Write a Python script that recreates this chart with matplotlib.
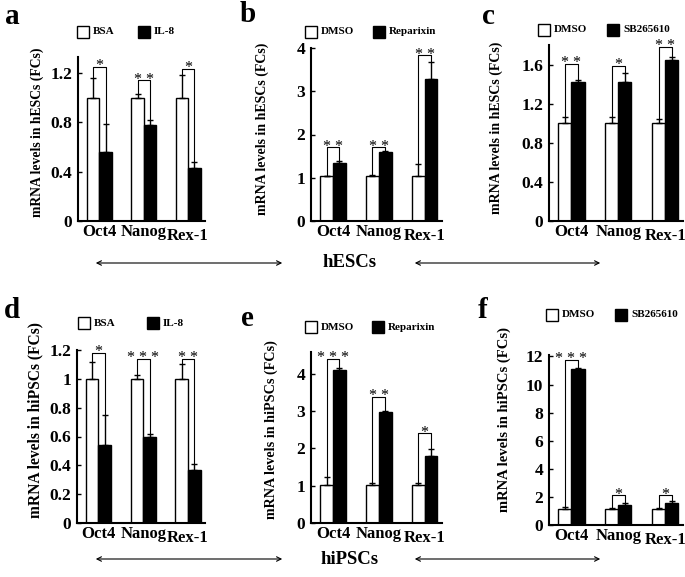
import matplotlib
matplotlib.use('Agg')
import matplotlib.pyplot as plt
import numpy as np
from matplotlib.patches import Rectangle, FancyArrowPatch
from matplotlib.transforms import ScaledTranslation

plt.rcParams['font.family'] = 'Liberation Serif'
plt.rcParams['font.weight'] = 'bold'

genes = ['Oct4', 'Nanog', 'Rex-1']

# panel a: hESCs, BSA vs IL-8
a_ctrl = [1.0, 1.0, 1.0]
a_ctrl_err = [0.16, 0.03, 0.18]
a_trt = [0.56, 0.78, 0.43]
a_trt_err = [0.23, 0.04, 0.05]
a_sig = ['*', '**', '*']
a_brk = [1.25, 1.14, 1.235]
a_ticks = [0, 0.4, 0.8, 1.2]

# panel b: hESCs, DMSO vs Reparixin
b_ctrl = [1.03, 1.03, 1.03]
b_ctrl_err = [0.02, 0.03, 0.28]
b_trt = [1.34, 1.59, 3.29]
b_trt_err = [0.04, 0.02, 0.38]
b_sig = ['**', '**', '**']
b_brk = [1.71, 1.71, 3.83]
b_ticks = [0, 1, 2, 3, 4]

# panel c: hESCs, DMSO vs SB265610
c_ctrl = [1.0, 1.0, 1.0]
c_ctrl_err = [0.06, 0.06, 0.04]
c_trt = [1.42, 1.42, 1.65]
c_trt_err = [0.02, 0.09, 0.03]
c_sig = ['**', '*', '**']
c_brk = [1.61, 1.59, 1.78]
c_ticks = [0, 0.4, 0.8, 1.2, 1.6]

# panel d: hiPSCs, BSA vs IL-8
d_ctrl = [1.0, 1.0, 1.0]
d_ctrl_err = [0.12, 0.03, 0.10]
d_trt = [0.54, 0.60, 0.37]
d_trt_err = [0.21, 0.02, 0.04]
d_sig = ['*', '***', '**']
d_brk = [1.18, 1.14, 1.14]
d_ticks = [0, 0.2, 0.4, 0.6, 0.8, 1.0, 1.2]

# panel e: hiPSCs, DMSO vs Reparixin
e_ctrl = [1.03, 1.03, 1.03]
e_ctrl_err = [0.20, 0.03, 0.03]
e_trt = [4.10, 2.97, 1.80]
e_trt_err = [0.04, 0.03, 0.18]
e_sig = ['***', '**', '*']
e_brk = [4.40, 3.38, 2.40]
e_ticks = [0, 1, 2, 3, 4]

# panel f: hiPSCs, DMSO vs SB265610
f_ctrl = [1.15, 1.15, 1.15]
f_ctrl_err = [0.10, 0.05, 0.05]
f_trt = [11.10, 1.45, 1.60]
f_trt_err = [0.10, 0.10, 0.12]
f_sig = ['***', '*', '*']
f_brk = [11.76, 2.12, 2.12]
f_ticks = [0, 2, 4, 6, 8, 10, 12]

W, H = 685, 577
fig = plt.figure(figsize=(W / 100, H / 100), dpi=100)


def px_rect(l, t, r, b):
    return [l / W, 1 - b / H, (r - l) / W, (b - t) / H]


def draw_panel(rect, ctrl, ctrl_err, trt, trt_err, sig, brk, ticks, ymax, ylabel,
               lab_size, lab_xy):
    ax = fig.add_axes(rect)
    x = np.arange(len(genes))
    w = 0.28
    z = np.zeros(len(genes))
    ax.bar(x - w / 2, ctrl, w, color='white', edgecolor='black', lw=1, zorder=2)
    ax.bar(x + w / 2, trt, w, color='black', edgecolor='black', lw=1, zorder=2)
    ax.errorbar(x - w / 2, ctrl, yerr=[z, ctrl_err], fmt='none', ecolor='black',
                elinewidth=1, capsize=2, capthick=1, zorder=3)
    ax.errorbar(x + w / 2, trt, yerr=[z, trt_err], fmt='none', ecolor='black',
                elinewidth=1, capsize=2, capthick=1, zorder=3)
    # significance brackets
    for i in range(len(genes)):
        y0 = ctrl[i] + ctrl_err[i]
        y1 = trt[i] + trt_err[i]
        ax.plot([x[i] - w / 2, x[i] - w / 2, x[i] + w / 2, x[i] + w / 2],
                [y0, brk[i], brk[i], y1], color='black', lw=0.8, clip_on=False)
        ax.annotate(' '.join(sig[i]), (x[i], brk[i]), xytext=(0, -2.5),
                    textcoords='offset points', ha='center', va='baseline',
                    fontsize=11.5, fontweight='normal', annotation_clip=False)
    ax.set_xlim(-0.48, 2.38)
    ax.set_ylim(0, ymax)
    ax.set_yticks(ticks)
    ax.set_yticklabels([f'{t:g}' for t in ticks])
    ax.set_xticks(x)
    ax.set_xticklabels(genes)
    ax.tick_params(axis='x', length=0, labelsize=12, pad=2)
    ax.tick_params(axis='y', direction='in', length=3, width=1, labelsize=12.5, pad=4)
    for s in ['top', 'right']:
        ax.spines[s].set_visible(False)
    for s in ['left', 'bottom']:
        ax.spines[s].set_linewidth(1.5)
    lbl = ax.get_xticklabels()[2]
    lbl.set_transform(lbl.get_transform() + ScaledTranslation(0, -3 / 72, fig.dpi_scale_trans))
    ax.set_ylabel(ylabel, fontsize=lab_size, fontweight='bold')
    ax.yaxis.set_label_coords(*lab_xy)
    return ax


draw_panel(px_rect(78, 57, 205, 221), a_ctrl, a_ctrl_err, a_trt, a_trt_err, a_sig, a_brk,
           a_ticks, 1.33, 'mRNA levels in hESCs (FCs)', 9.8, (-0.27, 0.54))
draw_panel(px_rect(311, 48, 442, 221), b_ctrl, b_ctrl_err, b_trt, b_trt_err, b_sig, b_brk,
           b_ticks, 4.0, 'mRNA levels in hESCs (FCs)', 10, (-0.32, 0.53))
draw_panel(px_rect(549, 45, 683, 221), c_ctrl, c_ctrl_err, c_trt, c_trt_err, c_sig, c_brk,
           c_ticks, 1.8, 'mRNA levels in hESCs (FCs)', 10, (-0.34, 0.53))
draw_panel(px_rect(77, 350, 205, 523), d_ctrl, d_ctrl_err, d_trt, d_trt_err, d_sig, d_brk,
           d_ticks, 1.2, 'mRNA levels in hiPSCs (FCs)', 11.2, (-0.26, 0.595))
draw_panel(px_rect(311, 352, 442, 523), e_ctrl, e_ctrl_err, e_trt, e_trt_err, e_sig, e_brk,
           e_ticks, 4.58, 'mRNA levels in hiPSCs (FCs)', 10.2, (-0.25, 0.545))
draw_panel(px_rect(549, 355, 683, 525), f_ctrl, f_ctrl_err, f_trt, f_trt_err, f_sig, f_brk,
           f_ticks, 12.1, 'mRNA levels in hiPSCs (FCs)', 10.5, (-0.28, 0.62))

# panel letters
for letter, (px, py) in zip('abcdef', [(12, 16), (248, 15), (488, 16), (12, 310), (247, 318), (483, 311)]):
    fig.text(px / W, 1 - py / H, letter, fontsize=21, fontweight='bold', ha='center', va='center')

# legends above each panel
legends = [
    ('BSA', 'IL-8', 77, 138, 32),
    ('DMSO', 'Reparixin', 305, 373, 32),
    ('DMSO', 'SB265610', 538, 607, 30),
    ('BSA', 'IL-8', 78, 147, 323),
    ('DMSO', 'Reparixin', 305, 372, 327),
    ('DMSO', 'SB265610', 546, 615, 315),
]
sq = 12
for name1, name2, x1, x2, yc in legends:
    for xs, fc, name in [(x1, 'white', name1), (x2, 'black', name2)]:
        fig.patches.append(Rectangle((xs / W, 1 - (yc + sq / 2) / H), sq / W, sq / H,
                                     transform=fig.transFigure, facecolor=fc,
                                     edgecolor='black', lw=1))
        fig.text((xs + sq + 4) / W, 1 - yc / H, name, fontsize=8, fontweight='bold',
                 ha='left', va='center')

# cell type arrows
for yc, name in [(263, 'hESCs'), (559, 'hiPSCs')]:
    for xa, xb in [(93, 285), (412, 603)]:
        fig.add_artist(FancyArrowPatch(
            (xa / W, 1 - yc / H), (xb / W, 1 - yc / H), transform=fig.transFigure,
            arrowstyle='<->', mutation_scale=8, lw=0.8, color='black'))
    fig.text(350 / W, 1 - yc / H, name, fontsize=13.5, fontweight='bold', ha='center', va='center')

fig.savefig('out.png', dpi=100)
